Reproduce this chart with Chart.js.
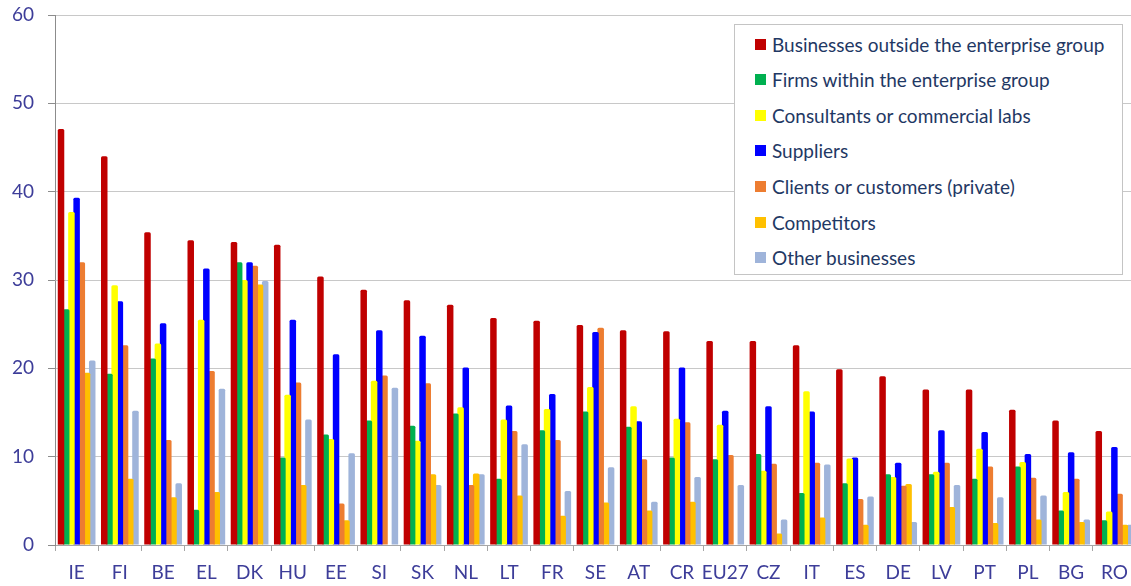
<!DOCTYPE html>
<html>
<head>
<meta charset="utf-8">
<script src="https://cdn.jsdelivr.net/npm/chart.js@4"></script>
<style>
  html, body { margin: 0; padding: 0; background: #ffffff; overflow: hidden; width: 1131px; height: 586px; }
  #wrap { position: absolute; left: 0; top: 0; width: 1137px; height: 586px; }
  #legend {
    position: absolute; left: 734px; top: 24px; width: 387px; height: 249px;
    border: 1px solid #c4c4c4; background: #ffffff; box-sizing: content-box;
  }
  .item { position: absolute; left: 20px; height: 24px; display: flex; align-items: center;
    font-family: Lato, "Open Sans", sans-serif; font-size: 19px; color: #1f3864; white-space: nowrap; }
  .sw { width: 11px; height: 11px; margin-right: 6px; display: inline-block; }
</style>
</head>
<body>
<div id="wrap"><canvas id="c" width="1137" height="586"></canvas></div>
<div id="legend"></div>
<script>
const categories = ['IE','FI','BE','EL','DK','HU','EE','SI','SK','NL','LT','FR','SE','AT','CR','EU27','CZ','IT','ES','DE','LV','PT','PL','BG','RO'];
const seriesNames = ['Businesses outside the enterprise group','Firms within the enterprise group','Consultants or commercial labs','Suppliers','Clients or customers (private)','Competitors','Other businesses'];
const outsideGroup = [47.1,44.0,35.4,34.5,34.3,34.0,30.4,28.9,27.7,27.2,25.7,25.4,24.9,24.3,24.2,23.1,23.1,22.6,19.9,19.1,17.6,17.6,15.3,14.1,12.9];
const withinGroup  = [26.7,19.4,21.1,4.0,32.0,9.9,12.5,14.1,13.5,14.9,7.5,13.0,15.1,13.4,9.9,9.7,10.3,5.9,7.0,8.0,8.0,7.5,8.9,3.9,2.8];
const consultants  = [37.7,29.4,22.8,25.5,30.0,17.0,12.0,18.6,11.8,15.6,14.2,15.4,17.9,15.7,14.3,13.6,8.4,17.4,9.8,7.7,8.3,10.9,9.4,6.0,3.8];
const suppliers    = [39.3,27.6,25.1,31.3,32.0,25.5,21.6,24.3,23.7,20.1,15.8,17.1,24.1,14.0,20.1,15.2,15.7,15.1,9.9,9.3,13.0,12.8,10.3,10.5,11.1];
const clients      = [32.0,22.6,11.9,19.7,31.6,18.4,4.7,19.2,18.3,6.8,12.9,11.9,24.6,9.7,13.9,10.2,9.2,9.3,5.2,6.7,9.3,8.9,7.6,7.5,5.8];
const competitors  = [19.5,7.5,5.4,6.0,29.5,6.8,2.8,null,8.0,8.1,5.6,3.3,4.8,3.9,4.9,null,1.3,3.1,2.3,6.9,4.3,2.5,2.9,2.6,2.3];
const otherBiz     = [20.9,15.2,7.0,17.7,29.9,14.2,10.4,17.8,6.8,8.0,11.4,6.1,8.8,4.9,7.7,6.8,2.9,9.1,5.5,2.6,6.8,5.4,5.6,2.9,2.3];
const yTicks = [0,10,20,30,40,50,60];

const colors = ['#c00000','#00b050','#ffff00','#0000ff','#ed7d31','#ffc000','#9fb4da'];
const values = [outsideGroup, withinGroup, consultants, suppliers, clients, competitors, otherBiz];

const datasets = values.map((v, i) => ({
  label: seriesNames[i],
  data: v,
  backgroundColor: colors[i],
  borderWidth: 0,
  borderRadius: {topLeft: 1.5, topRight: 1.5, bottomLeft: 0, bottomRight: 0},
  borderSkipped: 'bottom',
  categoryPercentage: 0.842,
  barPercentage: 1.25
}));

const axisColor = '#3d3d99';
const font = { family: 'Lato, "Open Sans", sans-serif', size: 19 };

new Chart(document.getElementById('c'), {
  type: 'bar',
  data: { labels: categories, datasets },
  options: {
    responsive: false,
    animation: false,
    layout: { padding: { top: 15, right: 1, left: 0, bottom: 0 } },
    plugins: { legend: { display: false }, tooltip: { enabled: false } },
    scales: {
      x: {
        offset: true,
        grid: { display: true, offset: true, drawOnChartArea: false, drawTicks: true, tickLength: 6, tickColor: '#a6a6a6' },
        border: { display: true, color: '#a6a6a6' },
        ticks: { color: axisColor, font, padding: 10, maxRotation: 0, autoSkip: false },
        afterFit: (s) => { s.height = 41; s.paddingLeft = 0; s.paddingRight = 0; }
      },
      y: {
        min: 0, max: 60,
        afterBuildTicks: (s) => { s.ticks = yTicks.map(v => ({ value: v })); },
        grid: { color: '#c8c8c8', borderDash: [2, 1], tickLength: 7, tickColor: '#8c8c8c', tickBorderDash: [] },
        border: { display: true, color: '#8c8c8c' },
        ticks: { color: axisColor, font, padding: 14 },
        afterFit: (s) => { s.width = 55; s.paddingTop = 0; s.paddingBottom = 0; }
      }
    }
  }
});

const lg = document.getElementById('legend');
seriesNames.forEach((n, i) => {
  const d = document.createElement('div');
  d.className = 'item';
  d.style.top = (7 + i * 35.6) + 'px';
  d.innerHTML = '<span class="sw" style="background:' + colors[i] + '"></span><span>' + n + '</span>';
  lg.appendChild(d);
});
</script>
</body>
</html>
